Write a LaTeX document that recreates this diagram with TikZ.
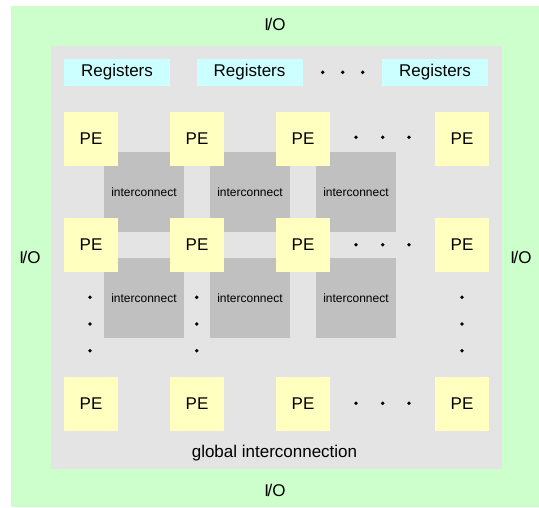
\documentclass[tikz,border=0pt]{standalone}
\usepackage{fontspec}
\setmainfont{Liberation Sans}
\definecolor{iogreen}{HTML}{CCFFCC}
\definecolor{arraygray}{HTML}{E4E4E4}
\definecolor{regcyan}{HTML}{CCFFFF}
\definecolor{peyellow}{HTML}{FFFFC0}
\definecolor{icgray}{HTML}{C0C0C0}
\tikzset{
  pe/.style={fill=peyellow, minimum width=54pt, minimum height=54pt, inner sep=0pt, font=\fontsize{17}{20}\selectfont},
  ic/.style={fill=icgray, minimum width=80pt, minimum height=80pt, inner sep=0pt, font=\fontsize{12}{14}\selectfont},
  reg/.style={fill=regcyan, minimum width=106pt, minimum height=26.5pt, inner sep=0pt, font=\fontsize{17}{20}\selectfont},
  lbl/.style={inner sep=0pt, font=\fontsize{17}{20}\selectfont},
  dot/.style={fill=black}
}
\begin{document}
\begin{tikzpicture}[x=1pt,y=-1pt]
        \useasboundingbox (0,0) rectangle (539,507);
        % I/O frame and the array area
        \fill[iogreen] (11,6) rectangle (539,507);
        \fill[arraygray] (51,46) rectangle (502,469);
        \node[lbl] (io-top) at (275,24) {I\kern-1.5pt/O};
        \node[lbl] (io-bottom) at (275,490) {I\kern-1.5pt/O};
        \node[lbl] (io-left) at (30,257) {I\kern-1.5pt/O};
        \node[lbl] (io-right) at (521,257) {I\kern-1.5pt/O};
        % register banks
        \node[reg] (reg1) at (117,72.5) {Registers};
        \node[reg] (reg2) at (249.5,72.5) {Registers};
        \node[reg] (reg3) at (435,72.5) {Registers};
        % interconnect blocks go under the PEs
        \foreach \r/\y in {1/192,2/298}
            \foreach \c/\x in {1/144,2/250,3/356}
                \node[ic] (ic-\r-\c) at (\x,\y) {interconnect};
        \foreach \r/\y in {1/139,2/245,3/404}
            \foreach \c/\x in {1/91,2/197,3/303,4/462}
                \node[pe] (pe-\r-\c) at (\x,\y) {PE};
        \node[lbl] (global) at (274.5,453.5) {global interconnection};
        % ellipsis dots
        \foreach \x in {322.7,342.7,362.7} \fill[dot] (\x,72.3) circle (1.9);
        \foreach \y in {137.3,244.7,403.3}
            \foreach \x in {356,382.7,409} \fill[dot] (\x,\y) circle (1.9);
        \foreach \x in {90,196.7,462}
            \foreach \y in {297.3,324,350.7} \fill[dot] (\x,\y) circle (1.9);
    \end{tikzpicture}
\end{document}
